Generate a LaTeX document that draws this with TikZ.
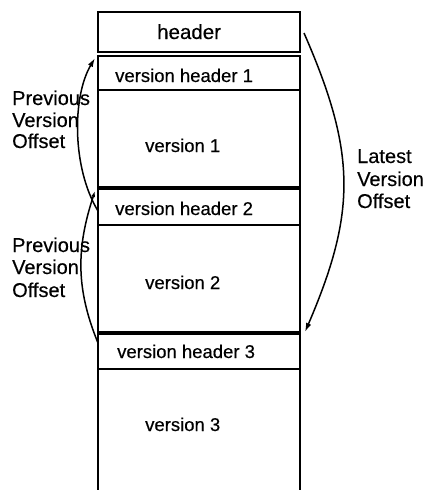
\documentclass[tikz,border=0pt]{standalone}
\usepackage{fontspec}
\setmainfont[FakeBold=0.35,AutoFakeBold=0.35]{Liberation Sans}
\usetikzlibrary{arrows.meta}
\begin{document}
\begin{tikzpicture}[x=1pt,y=-1pt,
  seg/.style={draw, line width=1.8pt, inner sep=0pt, minimum width=202pt},
  boxtext/.style={anchor=base west, inner sep=0pt, font=\fontsize{18.5}{22}\selectfont},
  sidetext/.style={anchor=base west, inner sep=0pt, font=\fontsize{20}{24}\selectfont},
  curve/.style={line width=1.5pt},
  head/.style={-{Latex[length=9pt,width=5.5pt]}},
  smallhead/.style={-{Latex[length=6pt,width=4pt]}}]
\fill[white] (0,0) rectangle (430,490);
\useasboundingbox (0,0) rectangle (430,490);

% segments of the file
\node[seg, minimum height=40pt]  (hdr) at (199,32)    {};
\node[seg, minimum height=34pt]  (vh1) at (199,73)    {};
\node[seg, minimum height=97pt]  (v1)  at (199,138.5) {};
\node[seg, minimum height=36pt]  (vh2) at (199,207)   {};
\node[seg, minimum height=107pt] (v2)  at (199,278.5) {};
\node[seg, minimum height=35pt]  (vh3) at (199,351.5) {};
\node[inner sep=0pt, minimum width=202pt, minimum height=121pt] (v3) at (199,429.5) {};
\draw[line width=1.8pt] (v3.north west) -- (v3.south west);
\draw[line width=1.8pt] (v3.north east) -- (v3.south east);

% texts in the segments
\node[boxtext, font=\fontsize{20.5}{24}\selectfont] (thdr) at (157,39) {header};
\node[boxtext] (tvh1) at (115,82)  {version header 1};
\node[boxtext] (tv1)  at (145,152) {version 1};
\node[boxtext] (tvh2) at (115,215) {version header 2};
\node[boxtext] (tv2)  at (145,289) {version 2};
\node[boxtext] (tvh3) at (117,358) {version header 3};
\node[boxtext] (tv3)  at (145,431) {version 3};

% side labels
\node[sidetext] (p1a) at (12,105) {Previous};
\node[sidetext] (p1b) at (12,127) {Version};
\node[sidetext] (p1c) at (12,148) {Offset};
\node[sidetext] (p2a) at (12,252) {Previous};
\node[sidetext] (p2b) at (12,274) {Version};
\node[sidetext] (p2c) at (12,297) {Offset};
\node[sidetext] (l1) at (357,163) {Latest};
\node[sidetext] (l2) at (357,186) {Version};
\node[sidetext] (l3) at (357,208) {Offset};

% arrows
\coordinate (a1s) at (98,211);
\coordinate (a1e) at (95,58);
\coordinate (a2s) at (98,343);
\coordinate (a2e) at (95,191);
\coordinate (a3s) at (304,33);
\coordinate (a3e) at (305,332);
\draw[curve, head] (a1s) .. controls (72,168) and (72,97) .. (a1e);
\draw[curve, smallhead] (a2s) .. controls (76,289) and (76,249) .. (a2e);
\draw[curve, head] (a3s) .. controls (356.5,153) and (356.5,212) .. (a3e);
\end{tikzpicture}
\end{document}
